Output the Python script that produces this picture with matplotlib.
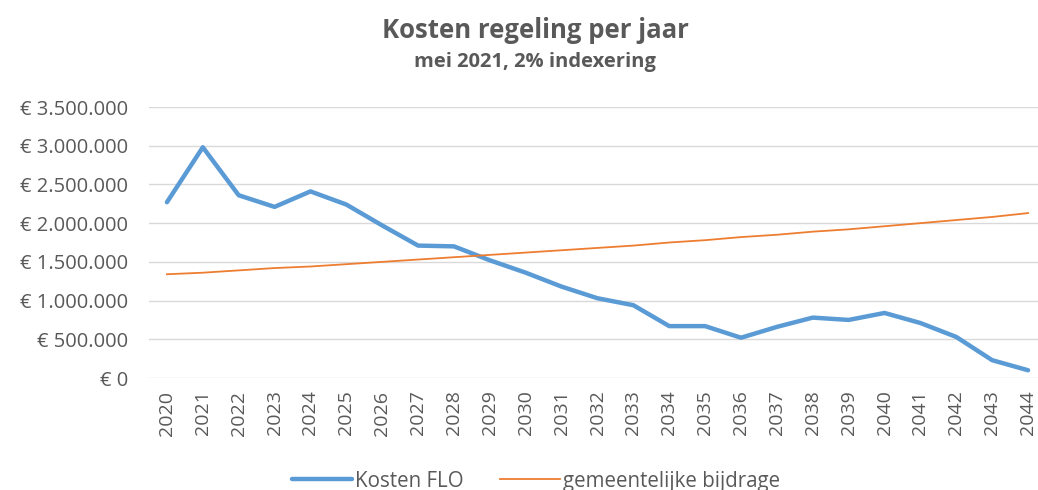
import matplotlib.pyplot as plt
from matplotlib.ticker import FuncFormatter

# data
years = [str(y) for y in range(2020, 2045)]
kosten_flo = [2.27, 2.98, 2.36, 2.21, 2.41, 2.24, 1.97, 1.71, 1.70, 1.52,
              1.36, 1.18, 1.03, 0.94, 0.67, 0.67, 0.52, 0.66, 0.78, 0.75,
              0.84, 0.71, 0.53, 0.23, 0.10]
gemeente = [1.34, 1.36, 1.39, 1.42, 1.44, 1.47, 1.50, 1.53, 1.56, 1.59,
            1.62, 1.65, 1.68, 1.71, 1.75, 1.78, 1.82, 1.85, 1.89, 1.92,
            1.96, 2.00, 2.04, 2.08, 2.13]
kosten_flo = [v * 1e6 for v in kosten_flo]
gemeente = [v * 1e6 for v in gemeente]

plt.rcParams['font.family'] = ['Open Sans', 'DejaVu Sans']
grey = '#595959'

fig = plt.figure(figsize=(10.38, 4.9), dpi=100)
ax = fig.add_axes([149 / 1038, 1 - 378 / 490, 897 / 1038, 271 / 490])

x = range(len(years))
ax.plot(x, kosten_flo, color='#5B9BD5', lw=3.2, label='Kosten FLO', solid_capstyle='round')
ax.plot(x, gemeente, color='#ED7D31', lw=1.3, label='gemeentelijke bijdrage')

ax.set_xlim(-0.5, len(years) - 0.5)
ax.set_ylim(0, 3.5e6)
ax.set_yticks(range(0, 3500001, 500000))
ax.yaxis.set_major_formatter(FuncFormatter(lambda v, p: '€ ' + f'{int(v):,}'.replace(',', '.')))
ax.set_xticks(list(x))
ax.set_xticklabels(years, rotation=90)
ax.grid(axis='y', color='#D9D9D9', lw=1)
ax.set_axisbelow(True)
for s in ax.spines.values():
    s.set_visible(False)
ax.tick_params(axis='y', length=0, pad=15, labelsize=14.5, labelcolor=grey)
ax.tick_params(axis='x', length=0, pad=9, labelsize=14, labelcolor=grey)

fig.text(535 / 1038, 1 - 31 / 490, 'Kosten regeling per jaar', ha='center', va='center',
         fontsize=18.5, fontweight='bold', color=grey)
fig.text(535 / 1038, 1 - 62 / 490, 'mei 2021, 2% indexering', ha='center', va='center',
         fontsize=14.5, fontweight='bold', color=grey)

fig.legend(loc='center', bbox_to_anchor=(536 / 1038, 1 - 481 / 490), ncol=2, frameon=False,
           fontsize=14.8, labelcolor=grey, handlelength=2.9, handletextpad=0.15,
           columnspacing=1.8)

fig.savefig('out.png', dpi=100)
